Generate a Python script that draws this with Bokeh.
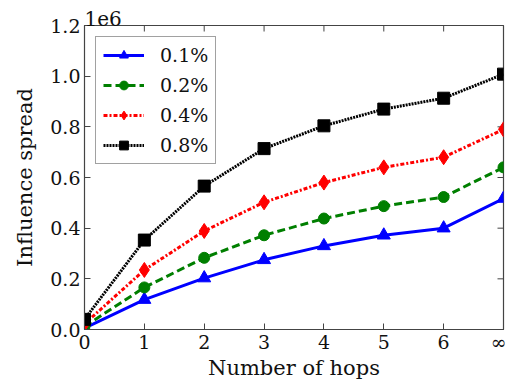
import math
from bokeh.plotting import figure
from bokeh.models import FixedTicker, Range1d, Legend, LegendItem
from bokeh.embed import file_html
from bokeh.resources import INLINE

hops = [0, 1, 2, 3, 4, 5, 6, 7]
hop_labels = ["0", "1", "2", "3", "4", "5", "6", "∞"]
s01 = [5000, 118000, 203000, 275000, 330000, 372000, 400000, 517000]
s02 = [12000, 166000, 283000, 372000, 438000, 487000, 523000, 640000]
s04 = [22000, 235000, 389000, 502000, 580000, 640000, 680000, 790000]
s08 = [40000, 353000, 566000, 714000, 804000, 870000, 913000, 1008000]
y_ticks = [0, 200000, 400000, 600000, 800000, 1000000, 1200000]
y_labels = ["0.0", "0.2", "0.4", "0.6", "0.8", "1.0", "1.2"]

FONT = "DejaVu Serif"
X_MAX = hops[-1]
Y_MAX = y_ticks[-1]

p = figure(width=506, height=382, output_backend="svg", toolbar_location=None,
           x_range=Range1d(0, X_MAX), y_range=Range1d(0, Y_MAX),
           min_border_left=84, min_border_right=3, min_border_top=25, min_border_bottom=44,
           title="1e6")
p.title.text_font = FONT
p.title.text_font_size = "20px"
p.title.text_font_style = "normal"
p.title.text_color = "#111111"
p.title.align = "left"
p.title.offset = 0
p.title.standoff = 0

p.xgrid.visible = False
p.ygrid.visible = False
p.outline_line_color = "#444444"
p.outline_line_width = 1.2

p.xaxis.ticker = FixedTicker(ticks=hops)
p.yaxis.ticker = FixedTicker(ticks=y_ticks)
p.xaxis.major_label_overrides = {h: l for h, l in zip(hops, hop_labels)}
p.yaxis.major_label_overrides = {t: l for t, l in zip(y_ticks, y_labels)}
p.xaxis.axis_label = "Number of hops"
p.yaxis.axis_label = "Influence spread"

for ax in [p.xaxis[0], p.yaxis[0]]:
    ax.major_label_text_font = FONT
    ax.major_label_text_font_size = "19px"
    ax.axis_label_text_font = FONT
    ax.axis_label_text_font_size = "21px"
    ax.axis_label_text_font_style = "normal"
    ax.major_tick_in = 6
    ax.major_tick_out = 0
    ax.minor_tick_in = 0
    ax.minor_tick_out = 0
    ax.axis_line_color = "#444444"
    ax.major_tick_line_color = "#444444"
    ax.major_label_text_color = "#111111"
    ax.axis_label_text_color = "#111111"
p.xaxis.major_label_standoff = 1
p.yaxis.major_label_standoff = 4
p.xaxis.axis_label_standoff = 0
p.yaxis.axis_label_standoff = 10

# inward ticks on the top and right edges of the frame
p.ray(x=hops, y=[Y_MAX] * len(hops), length=6, length_units="screen",
      angle=-math.pi / 2, line_color="#444444", line_width=1)
p.ray(x=[X_MAX] * len(y_ticks), y=y_ticks, length=6, length_units="screen",
      angle=math.pi, line_color="#444444", line_width=1)

series = [
    ("0.1%", s01, "#0000ff", "solid", "triangle", 13),
    ("0.2%", s02, "#007f00", "8 4", "circle", 11),
    ("0.4%", s04, "#ff0000", "4 2 2 2", "diamond", 15),
    ("0.8%", s08, "#000000", "2 1", "square", 12),
]
items = []
for name, ys, col, dash, marker, size in series:
    l = p.line(hops, ys, line_color=col, line_width=3, line_dash=dash)
    m = p.scatter(hops, ys, marker=marker, size=size, fill_color=col, line_color=col)
    items.append(LegendItem(label=name, renderers=[l, m]))

legend = Legend(items=items, location="top_left")
legend.label_text_font = FONT
legend.label_text_font_size = "19px"
legend.label_text_color = "#111111"
legend.glyph_width = 41
legend.glyph_height = 22
legend.spacing = 8
legend.padding = 7
legend.margin = 11
legend.label_standoff = 16
legend.border_line_color = "#444444"
legend.border_line_width = 1
legend.background_fill_color = "white"
legend.background_fill_alpha = 1
p.add_layout(legend)

open("out.html", "w").write(file_html(p, INLINE))
